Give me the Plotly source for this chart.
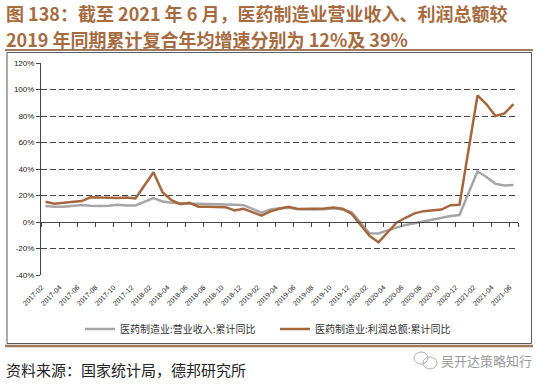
import plotly.graph_objects as go

# ---------------- data ----------------
# all monthly categories on the axis (January included as an empty slot, like the source)
years = [2017, 2018, 2019, 2020, 2021]
all_months = [f"{y}-{m:02d}" for y in years for m in range(1, 13)]
all_months = all_months[all_months.index("2017-02"):all_months.index("2021-06") + 1]

# data months (no January release for cumulative data)
months = [m for m in all_months if not m.endswith("-01")]

revenue_yoy = [  # 医药制造业:营业收入:累计同比 (%)
    12.0, 11.5, 11.6, 12.2, 12.8, 12.3, 12.0, 12.3, 13.0, 12.5, 12.5,      # 2017
    18.0, 15.5, 14.5, 14.0, 13.8, 13.8, 13.8, 13.5, 13.3, 13.0, 12.7,      # 2018
    7.0, 9.5, 10.3, 10.8, 9.8, 9.5, 9.5, 9.7, 10.3, 9.5, 7.5,              # 2019
    -8.5, -8.7, -6.3, -4.2, -2.2, -0.9, 0.5, 1.6, 3.4, 4.5, 5.3,           # 2020
    38.3, 34.0, 28.8, 27.5, 28.0,                                          # 2021
]
profit_yoy = [  # 医药制造业:利润总额:累计同比 (%)
    15.3, 13.8, 14.5, 15.3, 15.8, 18.6, 18.3, 18.3, 18.2, 18.4, 17.8,      # 2017
    37.6, 22.5, 16.5, 13.5, 14.5, 11.5, 11.5, 11.5, 11.2, 8.7, 10.0,       # 2018
    4.8, 8.0, 10.0, 11.5, 9.8, 9.8, 9.8, 10.2, 11.0, 10.0, 6.2,            # 2019
    -10.5, -15.3, -7.6, -0.5, 3.2, 6.5, 8.2, 8.8, 9.4, 12.7, 13.0,         # 2020
    95.5, 88.8, 80.0, 82.0, 89.0,                                          # 2021
]
tick_labels = all_months[::2]
y_ticks = [-40, -20, 0, 20, 40, 60, 80, 100, 120]

series_names = ["医药制造业:营业收入:累计同比", "医药制造业:利润总额:累计同比"]
title_lines = ["图 138：截至 2021 年 6 月，医药制造业营业收入、利润总额较",
               "2019 年同期累计复合年均增速分别为 12%及 39%"]
source_text = "资料来源：国家统计局，德邦研究所"
watermark_text = "吴开达策略知行"

# ---------------- geometry ----------------
W, H = 550, 384
L, R, T, B = 41, 32, 63, 109
PW, PH = W - L - R, H - T - B


def fx(px):
    return (px - L) / PW


def fy(py):
    return (H - B - py) / PH


GRAY = "#a6a6a6"
BROWN = "#a5683d"
AXIS = "#454545"
CJK = "Noto Sans CJK SC"
LAT = "Liberation Sans, Arial"

fig = go.Figure()
fig.add_trace(go.Scatter(x=months, y=revenue_yoy, name=series_names[0], mode="lines",
                         line=dict(color=GRAY, width=2.5)))
fig.add_trace(go.Scatter(x=months, y=profit_yoy, name=series_names[1], mode="lines",
                         line=dict(color=BROWN, width=2.5)))
# invisible carrier for the zero-crossing category axis
fig.add_trace(go.Scatter(x=months, y=[None] * len(months), xaxis="x2", showlegend=False,
                         hoverinfo="skip", mode="lines"))

ymin, ymax = min(y_ticks), max(y_ticks)

fig.update_layout(
    width=W, height=H, autosize=False,
    margin=dict(l=L, r=R, t=T, b=B, pad=0),
    paper_bgcolor="white", plot_bgcolor="white",
    showlegend=True,
    legend=dict(orientation="h", x=fx(80), y=fy(329), xanchor="left", yanchor="middle",
                font=dict(family=CJK, size=10, color="#333333"),
                entrywidth=150, entrywidthmode="pixels", bgcolor="rgba(0,0,0,0)",
                itemwidth=30),
    xaxis=dict(type="category", categoryorder="array", categoryarray=all_months,
               range=[-0.5, len(all_months) - 0.5],
               tickmode="array", tickvals=tick_labels, ticktext=tick_labels,
               tickangle=-45, tickfont=dict(family=LAT, size=7, color="#222222"),
               showgrid=False, showline=False, ticks="", zeroline=False,
               ticklabelstandoff=6, ticklabelshift=-4),
    xaxis2=dict(type="category", categoryorder="array", categoryarray=all_months,
                range=[-0.5, len(all_months) - 0.5], overlaying="x", anchor="free",
                position=(0 - ymin) / (ymax - ymin),
                tickmode="array", tickvals=tick_labels, tickson="boundaries",
                ticks="outside", ticklen=4, tickcolor=AXIS, tickwidth=1,
                showticklabels=False, showline=True, linecolor=AXIS, linewidth=1,
                showgrid=False, zeroline=False),
    yaxis=dict(range=[ymin, ymax], tickmode="array", tickvals=y_ticks,
               ticktext=[f"{v}%" for v in y_ticks],
               tickfont=dict(family=LAT, size=8, color="#222222"),
               showgrid=True, gridcolor=AXIS, gridwidth=1, griddash="6px,3px",
               zeroline=False, showline=True, linecolor=AXIS, linewidth=1,
               ticks="outside", ticklen=4, tickcolor=AXIS),
)

# title (two separate lines)
for i, line in enumerate(title_lines):
    fig.add_annotation(text=f"<b>{line}</b>", xref="paper", yref="paper",
                       x=fx(4), y=fy(13 + 26.5 * i), xanchor="left", yanchor="middle",
                       showarrow=False, font=dict(family=CJK, size=18, color="#a66b3f"))

# source and watermark
fig.add_annotation(text=source_text, xref="paper", yref="paper", x=fx(4), y=fy(369),
                   xanchor="left", yanchor="middle", showarrow=False,
                   font=dict(family=CJK, size=15, color="#222222"))
fig.add_annotation(text=watermark_text, xref="paper", yref="paper", x=fx(534), y=fy(360),
                   xanchor="right", yanchor="middle", showarrow=False,
                   font=dict(family=CJK, size=13, color="#9a9a9a"))

# decorations: rules and frame
fig.add_shape(type="line", xref="paper", yref="paper", x0=fx(5), x1=fx(533), y0=fy(50), y1=fy(50),
              line=dict(color="#a07a5c", width=2))
fig.add_shape(type="line", xref="paper", yref="paper", x0=fx(5), x1=fx(533), y0=fy(346), y1=fy(346),
              line=dict(color="#a07a5c", width=2.5))
fig.add_shape(type="rect", xref="paper", yref="paper", x0=fx(7), x1=fx(531.5), y0=fy(52.5), y1=fy(343.5),
              line=dict(color="#595959", width=1))
# watermark icon
fig.add_shape(type="circle", xref="paper", yref="paper", x0=fx(414), x1=fx(428), y0=fy(352), y1=fy(364),
              line=dict(color="#b0b0b0", width=1))
fig.add_shape(type="circle", xref="paper", yref="paper", x0=fx(423), x1=fx(437), y0=fy(357), y1=fy(369),
              line=dict(color="#b0b0b0", width=1))

fig.write_html("out.html", config={"displayModeBar": False},
               post_script="document.body.style.margin='0';document.body.style.padding='0';"
                           "document.body.style.overflow='hidden';")
